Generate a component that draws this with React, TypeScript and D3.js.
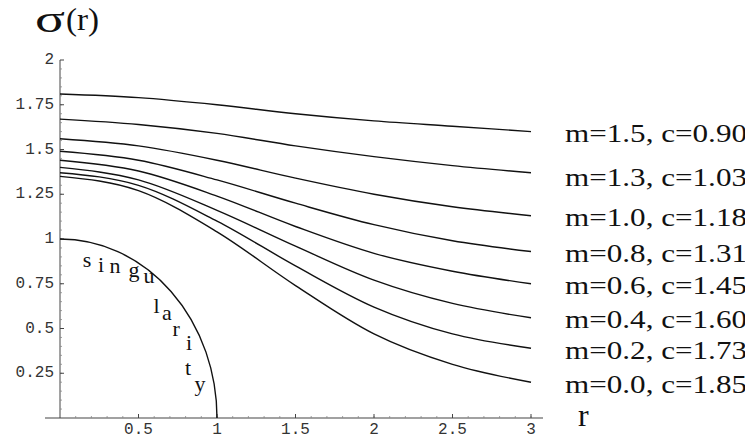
import React, { useRef, useEffect } from 'react';
import * as d3 from 'd3';

// sampled radii
const rValues = [0, 0.5, 1, 1.5, 2, 2.5, 3];

// sigma(r), one array per curve (top to bottom)
const sigmaM15 = [1.81, 1.79, 1.75, 1.7, 1.66, 1.63, 1.6];
const sigmaM13 = [1.67, 1.64, 1.59, 1.52, 1.46, 1.41, 1.37];
const sigmaM10 = [1.56, 1.52, 1.44, 1.34, 1.25, 1.18, 1.13];
const sigmaM08 = [1.49, 1.44, 1.33, 1.2, 1.08, 0.99, 0.93];
const sigmaM06 = [1.44, 1.38, 1.24, 1.07, 0.92, 0.82, 0.75];
const sigmaM04 = [1.4, 1.33, 1.16, 0.96, 0.77, 0.64, 0.56];
const sigmaM02 = [1.37, 1.3, 1.1, 0.85, 0.62, 0.47, 0.39];
const sigmaM00 = [1.35, 1.27, 1.04, 0.74, 0.47, 0.3, 0.2];

const seriesLabels = [
  'm=1.5, c=0.90',
  'm=1.3, c=1.03',
  'm=1.0, c=1.18',
  'm=0.8, c=1.31',
  'm=0.6, c=1.45',
  'm=0.4, c=1.60',
  'm=0.2, c=1.73',
  'm=0.0, c=1.85',
];

const xTicks = [0.5, 1, 1.5, 2, 2.5, 3];
const yTicks = [0.25, 0.5, 0.75, 1, 1.25, 1.5, 1.75, 2];

// letters of "singularity" along the inside of the arc, in (r, sigma)
const singLetters = ['s', 'i', 'n', 'g', 'u', 'l', 'a', 'r', 'i', 't', 'y'];
const singR = [0.172, 0.261, 0.35, 0.471, 0.567, 0.615, 0.68, 0.74, 0.822, 0.815, 0.892];
const singSigma = [0.844, 0.816, 0.81, 0.788, 0.754, 0.585, 0.55, 0.46, 0.38, 0.24, 0.151];

const Chart = () => {
  const ref = useRef(null);

  useEffect(() => {
    const svg = d3.select(ref.current);
    svg.selectAll('*').remove();

    const x = d3.scaleLinear().domain([0, 3]).range([60, 531]);
    const y = d3.scaleLinear().domain([0, 2]).range([418, 60]);

    const series = [sigmaM15, sigmaM13, sigmaM10, sigmaM08, sigmaM06, sigmaM04, sigmaM02, sigmaM00];

    const axisColor = '#444';
    const tickFont = '"Liberation Mono", "DejaVu Sans Mono", monospace';
    const serif = '"Liberation Serif", "Times New Roman", serif';

    // axes
    svg.append('line')
      .attr('x1', x(0) - 15).attr('x2', x(3) + 12)
      .attr('y1', y(0)).attr('y2', y(0))
      .attr('stroke', axisColor).attr('stroke-width', 1.2);
    svg.append('line')
      .attr('x1', x(0)).attr('x2', x(0))
      .attr('y1', y(0)).attr('y2', y(2))
      .attr('stroke', axisColor).attr('stroke-width', 1);

    // minor ticks
    const xMinor = d3.range(1, 31).map((i) => i / 10);
    svg.append('g').selectAll('line').data(xMinor).join('line')
      .attr('x1', (d) => x(d)).attr('x2', (d) => x(d))
      .attr('y1', y(0)).attr('y2', y(0) - 2)
      .attr('stroke', '#888').attr('stroke-width', 0.8);
    const yMinor = d3.range(1, 40).map((i) => i / 20);
    svg.append('g').selectAll('line').data(yMinor).join('line')
      .attr('x1', x(0)).attr('x2', x(0) + 2)
      .attr('y1', (d) => y(d)).attr('y2', (d) => y(d))
      .attr('stroke', '#888').attr('stroke-width', 0.8);

    // major ticks + labels
    svg.append('g').selectAll('line').data(xTicks).join('line')
      .attr('x1', (d) => x(d)).attr('x2', (d) => x(d))
      .attr('y1', y(0)).attr('y2', y(0) - 4)
      .attr('stroke', axisColor);
    svg.append('g').selectAll('text').data(xTicks).join('text')
      .attr('x', (d) => x(d)).attr('y', y(0) + 16)
      .attr('text-anchor', 'middle')
      .attr('font-family', tickFont).attr('font-size', 16)
      .attr('fill', '#333')
      .text((d) => String(d));

    svg.append('g').selectAll('line').data(yTicks).join('line')
      .attr('x1', x(0)).attr('x2', x(0) + 4)
      .attr('y1', (d) => y(d)).attr('y2', (d) => y(d))
      .attr('stroke', axisColor);
    svg.append('g').selectAll('text').data(yTicks).join('text')
      .attr('x', x(0) - 6).attr('y', (d) => y(d))
      .attr('text-anchor', 'end').attr('dominant-baseline', 'central')
      .attr('font-family', tickFont).attr('font-size', 16)
      .attr('fill', '#333')
      .text((d) => String(d));

    // curves
    const line = d3.line()
      .x((d) => x(d[0]))
      .y((d) => y(d[1]))
      .curve(d3.curveMonotoneX);

    svg.append('g').selectAll('path').data(series).join('path')
      .attr('d', (s) => line(rValues.map((r, i) => [r, s[i]])))
      .attr('fill', 'none')
      .attr('stroke', '#111')
      .attr('stroke-width', 1.4);

    svg.append('g').selectAll('text').data(series).join('text')
      .attr('x', x(3) + 34)
      .attr('y', (s, i) => y(s[s.length - 1]) + (i === 1 ? 5 : 2))
      .attr('dominant-baseline', 'central')
      .attr('font-family', serif).attr('font-size', 26)
      .attr('textLength', 182).attr('lengthAdjust', 'spacingAndGlyphs')
      .attr('fill', '#111')
      .text((s, i) => seriesLabels[i]);

    // singularity boundary (quarter ellipse in pixels = unit circle in data)
    const rx = x(1) - x(0);
    const ry = y(0) - y(1);
    svg.append('path')
      .attr('d', `M${x(0)},${y(1)} A${rx},${ry} 0 0 1 ${x(1)},${y(0)}`)
      .attr('fill', 'none')
      .attr('stroke', '#111')
      .attr('stroke-width', 1.4);

    svg.append('g').selectAll('text').data(singLetters).join('text')
      .attr('x', (d, i) => x(singR[i]))
      .attr('y', (d, i) => y(singSigma[i]))
      .attr('text-anchor', 'middle')
      .attr('font-family', serif).attr('font-size', 22)
      .attr('fill', '#111')
      .text((d) => d);

    // axis titles
    svg.append('text')
      .attr('x', 35).attr('y', 32)
      .attr('font-family', serif).attr('font-size', 37)
      .attr('textLength', 30).attr('lengthAdjust', 'spacingAndGlyphs')
      .attr('fill', '#111')
      .text('σ');
    svg.append('text')
      .attr('x', 66).attr('y', 30)
      .attr('font-family', serif).attr('font-size', 31)
      .attr('textLength', 33).attr('lengthAdjust', 'spacingAndGlyphs')
      .attr('fill', '#111')
      .text('(r)');
    svg.append('text')
      .attr('x', x(3) + 47).attr('y', y(0) + 8)
      .attr('font-family', serif).attr('font-size', 32)
      .attr('fill', '#111')
      .text('r');
  }, []);

  return <svg ref={ref} width={753} height={443} style={{ display: 'block' }}></svg>;
};

export default function App() {
  return (
    <div style={{ margin: -8, background: '#fff' }}>
      <Chart />
    </div>
  );
}
